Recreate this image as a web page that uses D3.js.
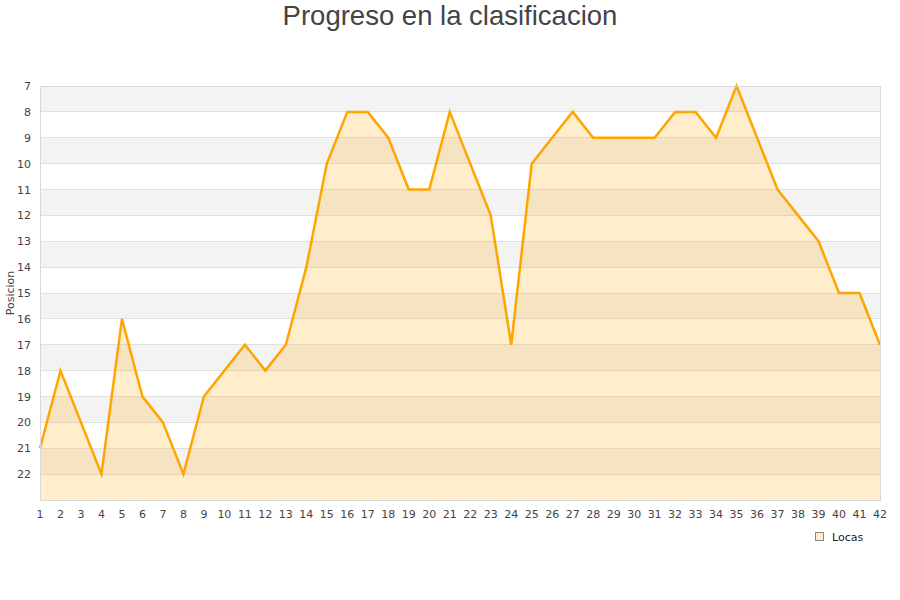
<!DOCTYPE html>
<html><head><meta charset="utf-8">
<script src="https://cdn.jsdelivr.net/npm/d3@7"></script>
<style>body{margin:0;background:#fff}svg{display:block}</style>
</head><body><svg id="c" width="900" height="600"></svg>
<script>
const title = "Progreso en la clasificacion";
const yTitle = "Posicion";
const seriesName = "Locas";
const jornadas = d3.range(1, 43);
const posiciones = [21,18,20,22,16,19,20,22,19,18,17,18,17,14,10,8,8,9,11,11,8,10,12,17,10,9,8,9,9,9,9,8,8,9,7,9,11,12,13,15,15,17];
const yTicks = d3.range(7, 23);

const svg = d3.select("#c");
const m = {l:40, r:880, t:86, b:500};
const x = d3.scaleLinear().domain([1,42]).range([m.l, m.r]);
const y = d3.scaleLinear().domain([7,23]).range([m.t, m.b]);

// bands
const bands = d3.range(7, 23);
svg.append("g").selectAll("rect").data(bands).join("rect")
  .attr("x", m.l).attr("width", m.r - m.l)
  .attr("y", d => y(d)).attr("height", d => y(d+1) - y(d))
  .attr("fill", d => (d % 2 === 1) ? "#f3f3f3" : "#ffffff");
// grid lines
svg.append("g").selectAll("line").data(d3.range(8, 23)).join("line")
  .attr("x1", m.l).attr("x2", m.r)
  .attr("y1", d => y(d)).attr("y2", d => y(d))
  .attr("stroke", "#e0e0e0").attr("stroke-width", 1).attr("shape-rendering","crispEdges");

const data = jornadas.map((j,i) => ({j, p: posiciones[i]}));
svg.append("path").datum(data)
  .attr("d", d3.area().x(d => x(d.j)).y0(y(23)).y1(d => y(d.p)))
  .attr("fill", "rgba(255,165,0,0.2)");
svg.append("path").datum(data)
  .attr("d", d3.line().x(d => x(d.j)).y(d => y(d.p)))
  .attr("fill", "none").attr("stroke", "#ffa500").attr("stroke-width", 2.5)
  .attr("stroke-linejoin","miter");

// border
svg.append("rect").attr("x", m.l).attr("y", m.t).attr("width", m.r-m.l).attr("height", m.b-m.t)
  .attr("fill","none").attr("stroke","#d8d8d8").attr("stroke-width",1).attr("shape-rendering","crispEdges");

// axes labels
const font = "DejaVu Sans, sans-serif";
svg.append("g").selectAll("text").data(yTicks).join("text")
  .attr("x", 31).attr("y", d => y(d) + 4).attr("text-anchor","end")
  .attr("font-family", font).attr("font-size", 11).attr("fill","#444").text(d => d);
svg.append("g").selectAll("text").data(jornadas).join("text")
  .attr("x", d => x(d)).attr("y", 518).attr("text-anchor","middle")
  .attr("font-family", font).attr("font-size", 11).attr("fill","#444").text(d => d);

svg.append("text").attr("transform","translate(14,293) rotate(-90)").attr("text-anchor","middle")
  .attr("font-family", font).attr("font-size", 11).attr("fill","#444").text(yTitle);

svg.append("text").attr("x", 450).attr("y", 25).attr("text-anchor","middle")
  .attr("font-family","Liberation Sans, Arial, sans-serif").attr("font-size", 27.5).attr("fill","#444").text(title);

// legend
svg.append("rect").attr("x", 815.5).attr("y", 532.5).attr("width", 8).attr("height", 8)
  .attr("fill","#ffeecc").attr("stroke","#888").attr("stroke-width",1);
svg.append("text").attr("x", 832).attr("y", 540.5)
  .attr("font-family", font).attr("font-size", 11).attr("fill","#222").text(seriesName);
</script></body></html>
